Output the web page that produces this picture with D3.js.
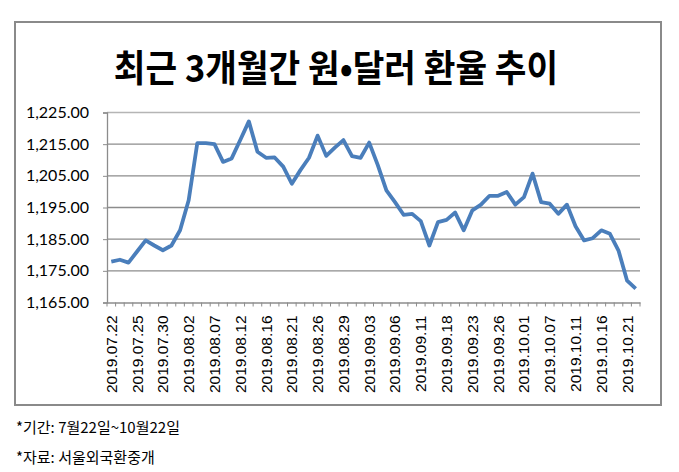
<!DOCTYPE html>
<html><head><meta charset="utf-8">
<script src="https://cdn.jsdelivr.net/npm/d3@7"></script>
<style>
html,body{margin:0;padding:0;background:#fff;}
svg{display:block;}
</style></head>
<body>
<svg id="chart" width="679" height="472"></svg>
<script>
const dates = [
"2019.07.22","2019.07.23","2019.07.24","2019.07.25","2019.07.26","2019.07.29","2019.07.30","2019.07.31",
"2019.08.01","2019.08.02","2019.08.05","2019.08.06","2019.08.07","2019.08.08","2019.08.09","2019.08.12",
"2019.08.13","2019.08.14","2019.08.16","2019.08.19","2019.08.20","2019.08.21","2019.08.22","2019.08.23",
"2019.08.26","2019.08.27","2019.08.28","2019.08.29","2019.08.30","2019.09.02","2019.09.03","2019.09.04",
"2019.09.05","2019.09.06","2019.09.09","2019.09.10","2019.09.11","2019.09.16","2019.09.17","2019.09.18",
"2019.09.19","2019.09.20","2019.09.23","2019.09.24","2019.09.25","2019.09.26","2019.09.27","2019.09.30",
"2019.10.01","2019.10.02","2019.10.04","2019.10.07","2019.10.08","2019.10.10","2019.10.11","2019.10.14",
"2019.10.15","2019.10.16","2019.10.17","2019.10.18","2019.10.21","2019.10.22"];
const rates = [
1177.9,1178.5,1177.6,1181.1,1184.6,1183.0,1181.5,1183.0,
1187.8,1197.3,1215.3,1215.3,1215.0,1209.4,1210.5,1216.3,
1222.2,1212.6,1210.7,1210.8,1207.9,1202.5,1206.8,1210.7,
1217.7,1211.3,1213.9,1216.3,1211.2,1210.7,1215.5,1208.4,
1200.4,1196.7,1192.7,1193.0,1190.7,1183.0,1190.4,1191.1,
1193.4,1187.8,1194.1,1195.9,1198.7,1198.7,1199.9,1195.9,
1198.3,1205.7,1196.7,1196.2,1193.0,1195.9,1189.1,1184.6,
1185.3,1187.8,1186.7,1181.4,1171.9,1169.4];
const yTicks = [1165,1175,1185,1195,1205,1215,1225];
const labelDates = ["2019.07.22","2019.07.25","2019.07.30","2019.08.02","2019.08.07","2019.08.12","2019.08.16",
"2019.08.21","2019.08.26","2019.08.29","2019.09.03","2019.09.06","2019.09.11","2019.09.18","2019.09.23",
"2019.09.26","2019.10.01","2019.10.07","2019.10.11","2019.10.16","2019.10.21"];
const titleText = "최근 3개월간 원•달러 환율 추이";
const notes = ["*기간: 7월22일~10월22일", "*자료: 서울외국환중개"];

const svg = d3.select("#chart");
const L = 107, R = 640, T = 112.5, B = 302.5;

// frame
svg.append("rect").attr("x",15).attr("y",22).attr("width",646).attr("height",383)
  .attr("fill","none").attr("stroke","#8a8a8a").attr("stroke-width",2);

svg.append("text").attr("transform","translate(336,82) scale(0.93,1)").attr("text-anchor","middle")
  .attr("font-family","'Noto Sans CJK KR'").attr("font-weight","bold").attr("font-size",37)
  .attr("fill","#000").text(titleText);

const x = d3.scaleBand().domain(dates).range([L,R]).padding(0);
const y = d3.scaleLinear().domain([1165,1225]).range([B,T]);

// gridlines
svg.append("g").selectAll("line").data(yTicks.slice(1)).join("line")
  .attr("x1",L).attr("x2",R).attr("y1",d=>y(d)).attr("y2",d=>y(d))
  .attr("stroke",d=>d===1225?"#b5b5b5":"#8c8c8c").attr("stroke-width",1.3);

// y axis
const yAxis = svg.append("g").attr("transform",`translate(${L},0)`)
  .call(d3.axisLeft(y).tickValues(yTicks).tickSize(4).tickPadding(14).tickFormat(d3.format(",.2f")));
yAxis.select(".domain").attr("stroke","#8c8c8c").attr("stroke-width",1.3);
yAxis.selectAll(".tick line").attr("stroke","#8c8c8c");
yAxis.selectAll("text").attr("font-family","Lato").attr("font-size",16).attr("fill","#000");

// x axis
const xAxis = svg.append("g").attr("transform",`translate(0,${B})`)
  .call(d3.axisBottom(x).tickSize(0).tickFormat(""));
xAxis.select(".domain").attr("stroke","#8c8c8c").attr("stroke-width",1.3);
xAxis.selectAll(".tick").remove();
const tickPos = dates.map(d=>x(d)).concat([R]);
xAxis.selectAll("line.tk").data(tickPos).join("line").attr("class","tk")
  .attr("x1",d=>d).attr("x2",d=>d).attr("y1",0).attr("y2",4).attr("stroke","#8c8c8c");
xAxis.selectAll("text.lb").data(labelDates).join("text").attr("class","lb")
  .attr("transform",d=>`translate(${x(d)+x.bandwidth()/2+5.5},13) rotate(-90)`)
  .attr("text-anchor","end").attr("font-family","'Liberation Sans'").attr("font-size",15.5)
  .attr("fill","#000").text(d=>d);

// line
const line = d3.line().x((d,i)=>x(dates[i])+x.bandwidth()/2).y(d=>y(d));
svg.append("path").datum(rates).attr("d",line).attr("fill","none")
  .attr("stroke","#4a7ebb").attr("stroke-width",3.8).attr("stroke-linejoin","round");

// notes
svg.selectAll("text.note").data(notes).join("text").attr("class","note")
  .attr("x",16).attr("y",(d,i)=>433+i*30).attr("font-family","'Noto Sans CJK KR'")
  .attr("font-size",15).attr("fill","#000").text(d=>d);
</script>
</body></html>
